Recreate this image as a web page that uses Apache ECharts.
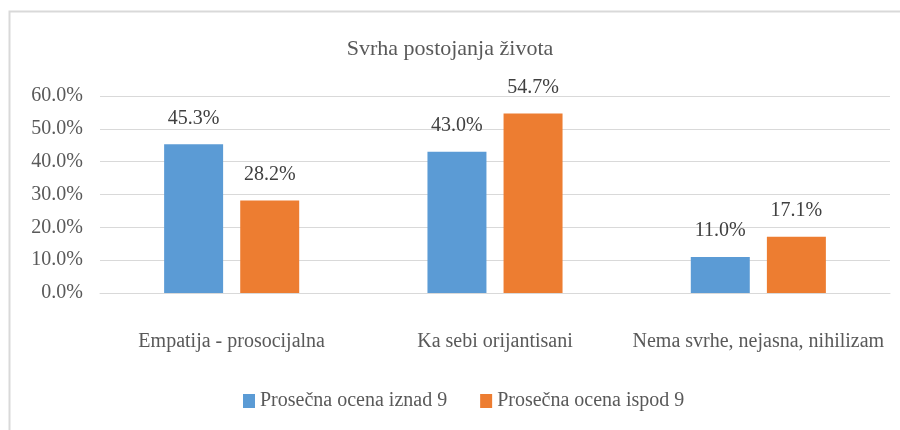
<!DOCTYPE html>
<html><head><meta charset="utf-8">
<script src="https://cdn.jsdelivr.net/npm/echarts@6/dist/echarts.min.js"></script>
<style>html,body{margin:0;padding:0;background:#fff}#c{width:900px;height:430px}</style>
</head><body><div id="c"></div>
<script>
const categories = ['Empatija - prosocijalna', 'Ka sebi orijantisani', 'Nema svrhe, nejasna, nihilizam'];
const seriesNames = ['Prosečna ocena iznad 9', 'Prosečna ocena ispod 9'];
const above9 = [45.3, 43.0, 11.0];
const below9 = [28.2, 54.7, 17.1];
const yTicks = [0, 10, 20, 30, 40, 50, 60];

const FONT = '"Liberation Serif", "DejaVu Serif", serif';
const chart = echarts.init(document.getElementById('c'), null, {renderer: 'canvas'});
const labelCfg = {
  show: true, position: 'top', distance: 16,
  fontFamily: FONT, fontSize: 20, color: '#404040',
  formatter: p => p.value.toFixed(1) + '%'
};
chart.setOption({
  animation: false,
  backgroundColor: '#fff',
  graphic: [{
    type: 'rect', left: 7, top: 9, silent: true,
    shape: {x: 0, y: 0, width: 1000, height: 500},
    style: {fill: 'none', stroke: '#d9d9d9', lineWidth: 2}
  }],
  title: {
    text: 'Svrha postojanja života', left: 'center', top: 33,
    textStyle: {fontFamily: FONT, fontSize: 22, fontWeight: 'normal', color: '#595959'}
  },
  legend: {
    data: seriesNames, bottom: 14, left: 238, itemGap: 33,
    itemWidth: 12, itemHeight: 14, icon: 'rect',
    textStyle: {fontFamily: FONT, fontSize: 20, color: '#595959'}
  },
  grid: {left: 100, right: 10, top: 96, bottom: 137, containLabel: false},
  xAxis: {
    type: 'category', data: categories,
    axisLine: {lineStyle: {color: '#d9d9d9', width: 1}},
    axisTick: {show: false},
    axisLabel: {fontFamily: FONT, fontSize: 20, color: '#595959', margin: 39, interval: 0}
  },
  yAxis: {
    type: 'value', min: yTicks[0], max: yTicks[yTicks.length - 1], interval: 10,
    axisLine: {show: false}, axisTick: {show: false},
    splitLine: {lineStyle: {color: '#d9d9d9', width: 1}},
    axisLabel: {fontFamily: FONT, fontSize: 20, color: '#595959', margin: 17,
      formatter: v => v.toFixed(1) + '%'}
  },
  series: [
    {name: seriesNames[0], type: 'bar', data: above9, barWidth: '22.4%', barGap: '29%',
     itemStyle: {color: '#5B9BD5'}, label: labelCfg},
    {name: seriesNames[1], type: 'bar', data: below9, barWidth: '22.4%', barGap: '29%',
     itemStyle: {color: '#ED7D31'}, label: labelCfg}
  ]
});
</script></body></html>
